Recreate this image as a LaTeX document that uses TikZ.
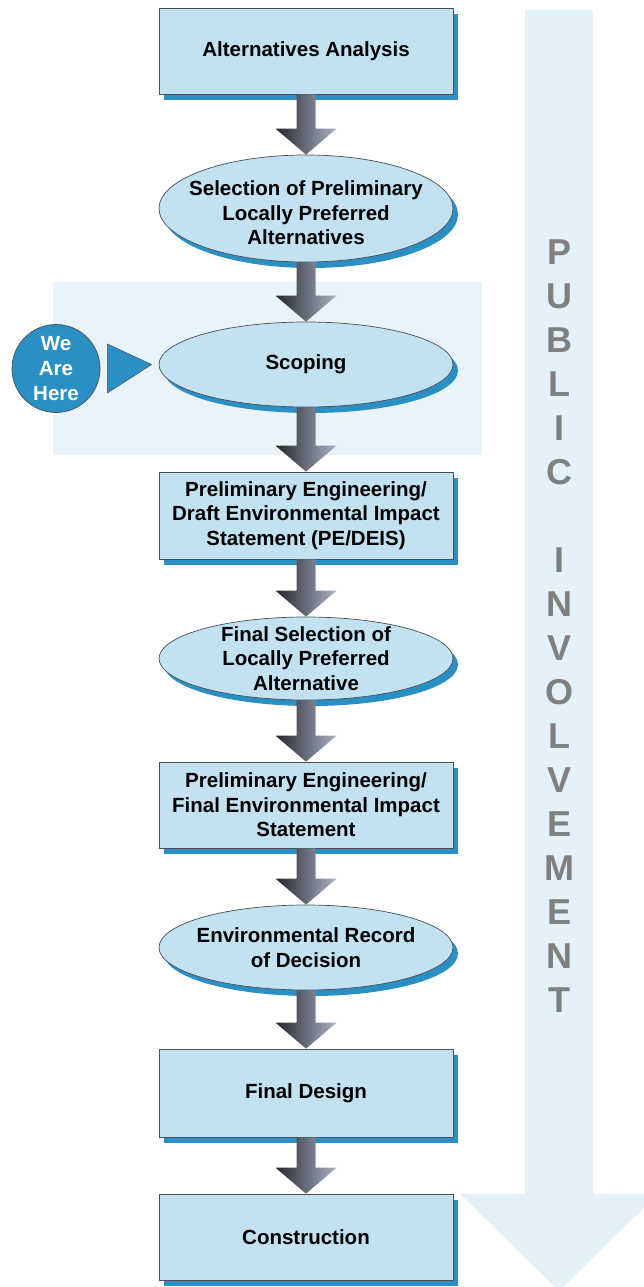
\documentclass[tikz,border=0pt]{standalone}
\usepackage{fontspec}
\setmainfont{Liberation Sans}
\usetikzlibrary{shapes.geometric,shadows,calc}
\definecolor{boxfill}{HTML}{C2E2F2}
\definecolor{sblue}{HTML}{2A8FC3}
\definecolor{edgec}{HTML}{4A4F58}
\definecolor{bandc}{HTML}{E8F3FA}
\definecolor{bigarrow}{HTML}{E5F1F9}
\definecolor{lettc}{HTML}{808080}
\definecolor{ardark}{HTML}{23252E}
\definecolor{arlight}{HTML}{ABB4C5}
\newcommand\blockarr[2]{%
  \path[left color=ardark,right color=arlight] let \p1=(#1.south),\p2=(#2.north) in
  (\x1-9.5pt,\y1) -- (\x1+9.5pt,\y1) -- (\x1+9.5pt,\y2+26pt) -- (\x1+30.5pt,\y2+26pt)
  -- (\x2,\y2) -- (\x1-30.5pt,\y2+26pt) -- (\x1-9.5pt,\y2+26pt) -- cycle;}
\begin{document}
\begin{tikzpicture}[x=1pt,y=-1pt,
  shadowed/.style={drop shadow={shadow xshift=5pt,shadow yshift=-6pt,fill=sblue,opacity=1}},
  stepbox/.style={rectangle,draw=edgec,line width=0.7pt,fill=boxfill,minimum width=294pt,
    inner sep=0pt,shadowed,align=center,font=\bfseries\fontsize{20.5}{24.5}\selectfont},
  stepell/.style={ellipse,draw=edgec,line width=0.7pt,fill=boxfill,minimum width=294pt,
    inner sep=0pt,shadowed},
  lbl/.style={align=center,font=\bfseries\fontsize{20.5}{24.5}\selectfont,text=black,inner sep=0pt},
  letter/.style={text=lettc,font=\bfseries\fontsize{36}{36}\selectfont,inner sep=0pt},
  herec/.style={circle,fill=sblue,draw=edgec,line width=0.7pt,minimum size=88pt,inner sep=0pt,
    text=white,align=center,font=\bfseries\fontsize{20.5}{25}\selectfont}
]
\useasboundingbox (0,0) rectangle (643,1287);
% background public involvement arrow
\fill[bigarrow] (525,10) -- (593,10) -- (593,1194) -- (658,1194) -- (559,1291)
  -- (460,1194) -- (525,1194) -- cycle;
\foreach \ch/\yy [count=\i] in {P/252,U/296,B/340,L/384,I/428,C/472,I/560,N/604,V/648,
  O/692,L/736,V/780,E/824,M/868,E/912,N/956,T/1000}
  \node[letter] (ltr\i) at (559,\yy) {\ch};
% scoping band
\fill[bandc] (53,282) rectangle (482,455);
% steps
\node[stepbox,minimum height=86pt] (aa) at (306,51) {Alternatives Analysis};
\node[stepell,minimum height=107pt] (e1) at (306,208.5) {};
\node[lbl] (e1t) at (306,213) {Selection of Preliminary\\Locally Preferred\\Alternatives};
\node[stepell,minimum height=85pt] (sc) at (306,364.5) {};
\node[lbl] (sct) at (sc) {Scoping};
\node[stepbox,minimum height=87pt] (pe) at (306,515.5) {Preliminary Engineering/\\Draft Environmental Impact\\Statement (PE/DEIS)};
\node[stepell,minimum height=83pt] (e2) at (306,658.5) {};
\node[lbl] (e2t) at (306,658.5) {Final Selection of\\Locally Preferred\\Alternative};
\node[stepbox,minimum height=86pt] (fe) at (306,805) {Preliminary Engineering/\\Final Environmental Impact\\Statement};
\node[stepell,minimum height=85pt] (e3) at (306,947.5) {};
\node[lbl] (e3t) at (306,947.5) {Environmental Record\\of Decision};
\node[stepbox,minimum height=88pt] (fd) at (306,1093) {Final Design};
\node[stepbox,minimum height=86pt] (co) at (306,1237) {Construction};
% block arrows
\blockarr{aa}{e1}
\blockarr{e1}{sc}
\blockarr{sc}{pe}
\blockarr{pe}{e2}
\blockarr{e2}{fe}
\blockarr{fe}{e3}
\blockarr{e3}{fd}
\blockarr{fd}{co}
% we are here
\node[herec] (here) at (56,368.5) {We\\Are\\Here};
\path[fill=sblue,draw=edgec,line width=0.5pt] let \p1=(here.east),\p2=(sc.west) in
  (\x1+7pt,\y1+24.5pt) -- (\x2-7pt,\y2) -- (\x1+7pt,\y1-24.5pt) -- cycle;
\end{tikzpicture}
\end{document}
